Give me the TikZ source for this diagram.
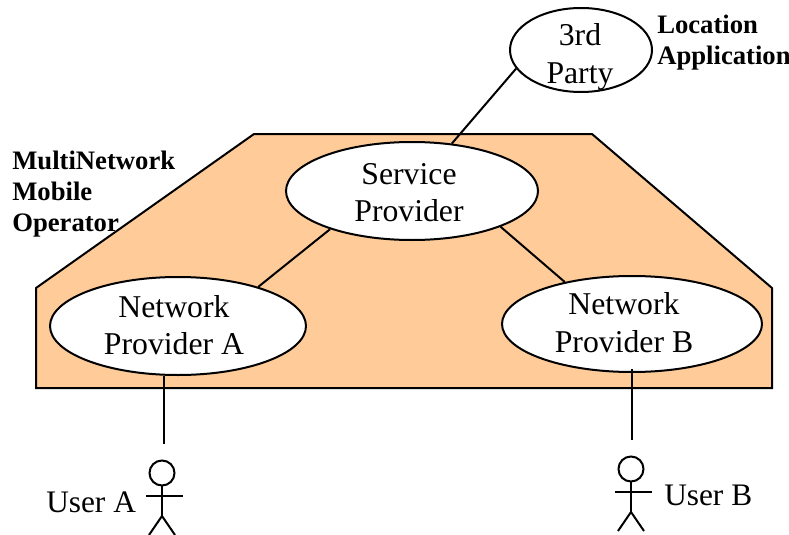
\documentclass[tikz,border=0pt]{standalone}
\usepackage{fontspec}
\setmainfont{Liberation Serif}
\usetikzlibrary{shapes.geometric}
\definecolor{opfill}{HTML}{FFCC99}
\tikzset{
  entity/.style={draw,ellipse,fill=white,line width=1.5pt,inner sep=0pt},
  entitytext/.style={inner sep=0pt,align=center,font=\fontsize{23.8}{28}\selectfont},
  boldlabel/.style={align=left,anchor=north west,inner sep=0pt,
    font=\bfseries\fontsize{20}{23.2}\selectfont},
  userlabel/.style={inner sep=0pt,font=\fontsize{23.5}{27.5}\selectfont},
  link/.style={line width=1.5pt},
}
\newcommand*{\stickman}[2]{% head centre x, head centre y
  \draw [link] (#1,#2) circle (12.5);
  \draw [link] (#1,#2+12) -- (#1,#2+43);
  \draw [link] (#1-16,#2+23) -- (#1+20.5,#2+23);
  \draw [link] (#1-13,#2+62) -- (#1,#2+43) -- (#1+13,#2+62);
}

\begin{document}
\begin{tikzpicture}[x=0.75pt,y=-0.75pt]
\useasboundingbox (0,0) rectangle (789,535);

% Operator area
\draw [link,fill=opfill] (36,288) -- (254,134) -- (592,134) -- (772,288)
   -- (772,388) -- (36,388) -- cycle;

% Ellipses
\node [entity,minimum width=142*0.75pt,minimum height=84*0.75pt] (party) at (581,50) {};
\node [entity,minimum width=252*0.75pt,minimum height=98*0.75pt] (service) at (412,191) {};
\node [entity,minimum width=256*0.75pt,minimum height=98*0.75pt] (netA) at (178,326) {};
\node [entity,minimum width=260*0.75pt,minimum height=96*0.75pt] (netB) at (632,324) {};

\node [entitytext] (partyText) at (580,57) {3rd\\Party};
\node [entitytext] (serviceText) at (409,192.5) {Service\\Provider};
\node [entitytext] (netAText) at (174,325) {Network\\Provider A};
\node [entitytext] (netBText) at (624,322.5) {Network\\Provider B};

\draw [link] (party.196) -- (service.50);
\draw [link] (service.205) -- (netA.26);
\draw [link] (service.-22) -- (netB.148);

% Users
\coordinate (userA) at (164,444);
\coordinate (userB) at (632,440);
\draw [link] (netA.south -| userA) -- (userA);
\draw [link] (netB.south -| userB) ++(0,-4) -- (userB);
\stickman{162}{473}
\stickman{631}{469}

\node [userlabel,anchor=west] (labelA) at (46,502) {User A};
\node [userlabel,anchor=west] (labelB) at (664,495) {User B};

% Bold labels
\node [boldlabel] (operator) at (12,150.5) {MultiNetwork\\Mobile\\Operator};
\node [boldlabel] (location) at (657,15) {Location\\Application};
\end{tikzpicture}
\end{document}
